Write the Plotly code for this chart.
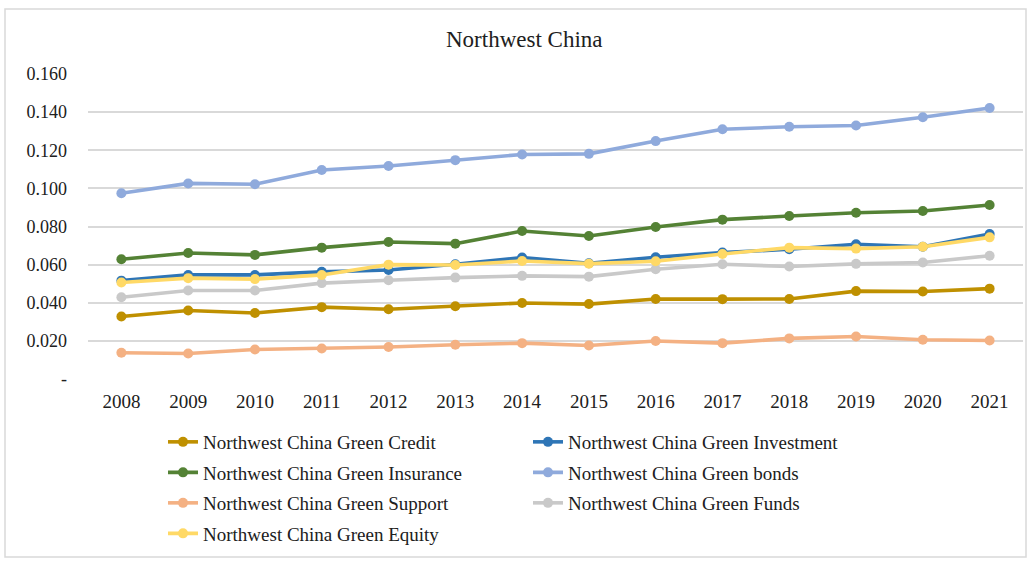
import plotly.graph_objects as go

years = ["2008", "2009", "2010", "2011", "2012", "2013", "2014",
         "2015", "2016", "2017", "2018", "2019", "2020", "2021"]

green_credit = [0.0328, 0.0359, 0.0346, 0.0377, 0.0366, 0.0382, 0.0399,
                0.0393, 0.0420, 0.0419, 0.0420, 0.0461, 0.0459, 0.0474]
green_investment = [0.0516, 0.0546, 0.0546, 0.0562, 0.0572, 0.0602, 0.0637,
                    0.0607, 0.0639, 0.0663, 0.0681, 0.0707, 0.0694, 0.0761]
green_insurance = [0.0628, 0.0661, 0.0651, 0.0689, 0.0719, 0.0710, 0.0776,
                   0.0750, 0.0797, 0.0836, 0.0855, 0.0872, 0.0881, 0.0913]
green_bonds = [0.0974, 0.1026, 0.1022, 0.1096, 0.1117, 0.1148, 0.1178,
               0.1181, 0.1248, 0.1310, 0.1323, 0.1330, 0.1373, 0.1422]
green_support = [0.0138, 0.0134, 0.0155, 0.0160, 0.0168, 0.0180, 0.0188,
                 0.0176, 0.0199, 0.0188, 0.0213, 0.0223, 0.0206, 0.0202]
green_funds = [0.0429, 0.0464, 0.0464, 0.0503, 0.0518, 0.0532, 0.0541,
               0.0537, 0.0576, 0.0602, 0.0590, 0.0604, 0.0611, 0.0647]
green_equity = [0.0506, 0.0529, 0.0524, 0.0546, 0.0600, 0.0598, 0.0619,
                0.0605, 0.0618, 0.0656, 0.0689, 0.0684, 0.0694, 0.0743]

y_tick_vals = [0, 0.02, 0.04, 0.06, 0.08, 0.10, 0.12, 0.14, 0.16]
y_tick_text = ["-", "0.020", "0.040", "0.060", "0.080", "0.100", "0.120", "0.140", "0.160"]

# (name, values, colour, legend row)
series = [
    ("Northwest China Green Credit", green_credit, "#BF9000", "legend"),
    ("Northwest China Green Investment", green_investment, "#2E75B6", "legend"),
    ("Northwest China Green Insurance", green_insurance, "#548235", "legend2"),
    ("Northwest China Green bonds", green_bonds, "#8FAADC", "legend2"),
    ("Northwest China Green Support", green_support, "#F4B183", "legend3"),
    ("Northwest China Green Funds", green_funds, "#C9C9C9", "legend3"),
    ("Northwest China Green Equity", green_equity, "#FFD966", "legend4"),
]

SERIF = "Times New Roman, Liberation Serif, serif"
TEXT = "#202020"

fig = go.Figure()
for name, vals, color, leg in series:
    fig.add_trace(go.Scatter(
        x=years, y=vals, name=name, mode="lines+markers",
        line=dict(color=color, width=3.6),
        marker=dict(color=color, size=10),
        legend=leg,
    ))


def legend_row(top_px):
    return dict(orientation="h", xref="container", yref="container",
                x=163 / 1030, xanchor="left", y=1 - top_px / 561, yanchor="top",
                entrywidth=320, entrywidthmode="pixels",
                font=dict(family=SERIF, size=19, color=TEXT),
                bgcolor="rgba(0,0,0,0)", traceorder="normal")


fig.update_layout(
    width=1030, height=561,
    margin=dict(l=88, r=7, t=74, b=182),
    paper_bgcolor="white", plot_bgcolor="white",
    font=dict(family=SERIF, size=16, color=TEXT),
    title=dict(text="Northwest China", x=0.509, xref="container", xanchor="center",
               y=1 - 39 / 561, yref="container", yanchor="middle",
               font=dict(family=SERIF, size=23, color=TEXT)),
    xaxis=dict(type="category", range=[-0.5, 13.5], showgrid=False, showline=False,
               zeroline=False, ticks="", ticklabelstandoff=9,
               tickfont=dict(family=SERIF, size=19, color=TEXT)),
    yaxis=dict(range=[0, 0.16], tickvals=y_tick_vals, ticktext=y_tick_text,
               showgrid=True, gridcolor="#D9D9D9", gridwidth=1.5,
               zeroline=False, showline=False, ticks="", ticklabelstandoff=20,
               tickfont=dict(family=SERIF, size=18, color=TEXT)),
    legend=legend_row(423),
    legend2=legend_row(453.5),
    legend3=legend_row(484),
    legend4=legend_row(514.5),
    shapes=[dict(type="rect", xref="paper", yref="paper",
                 x0=(5 - 88) / 935, x1=(1026 - 88) / 935,
                 y0=(379 - 557) / 305, y1=(379 - 9) / 305,
                 line=dict(color="#D9D9D9", width=1.5), layer="below")],
)

fig.write_html("out.html")
